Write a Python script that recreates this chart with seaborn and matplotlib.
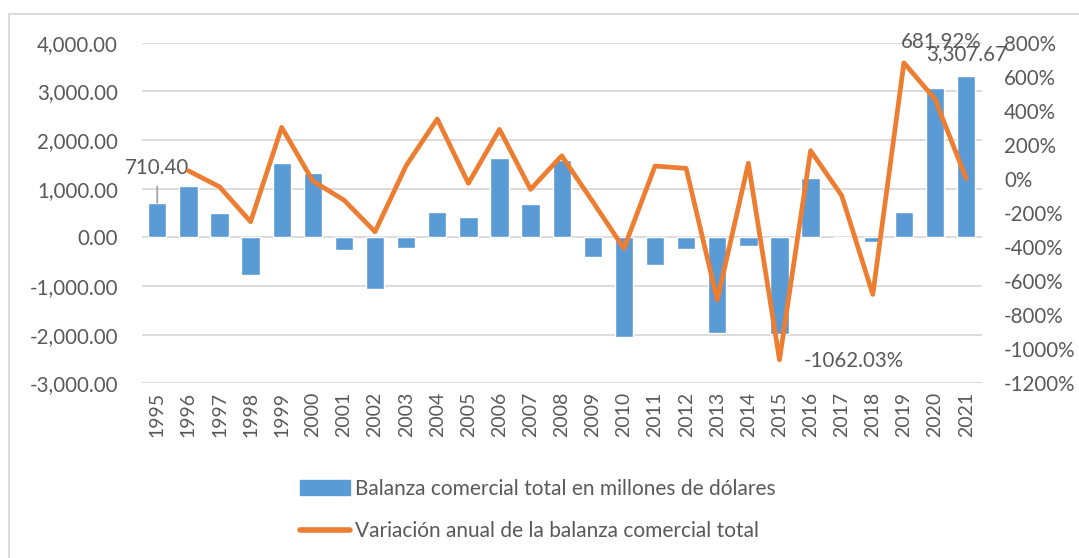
import numpy as np
import pandas as pd
import matplotlib
matplotlib.use("Agg")
import matplotlib.pyplot as plt
import matplotlib.patches as mpatches
import matplotlib.lines as mlines
from matplotlib.ticker import FuncFormatter, MultipleLocator
import seaborn as sns

years = [str(y) for y in range(1995, 2022)]
balanza = [710.40, 1045, 502, -778, 1528, 1321, -262, -1061, -227, 529, 413, 1631,
           681, 1596, -413, -2052, -572, -248, -1962, -170, -1982, 1224, 16, -91,
           529, 3062, 3307.67]
variacion = [np.nan, 48, -46, -251, 303, -12, -124, -310, 78, 352, -26, 291, -61,
             136, -134, -408, 76, 62, -711, 92, -1062.03, 166, -98, -678, 681.92,
             469, 3]

label_bar = "Balanza comercial total en millones de dólares"
label_line = "Variación anual de la balanza comercial total"

BLUE = "#5b9bd5"
ORANGE = "#ed7d31"
TXT = "#595959"
GRID = "#d9d9d9"

sns.set_theme(style="white")
plt.rcParams["font.family"] = ["Lato", "DejaVu Sans"]

df = pd.DataFrame({"year": years, "balanza": balanza, "variacion": variacion})
df["pos"] = np.arange(len(df))

W, H = 1079, 558
fig = plt.figure(figsize=(W / 100, H / 100), dpi=100)
ax = fig.add_axes([141.7 / W, 1 - 383.3 / H, (981.7 - 141.7) / W, (383.3 - 42.7) / H])

sns.barplot(data=df, x="year", y="balanza", color=BLUE, saturation=1, width=0.59,
            ax=ax, zorder=2)
ax.set_ylim(-3000, 4000)
ax.set_xlim(-0.5, len(df) - 0.5)
ax.yaxis.set_major_locator(MultipleLocator(1000))
ax.yaxis.set_major_formatter(FuncFormatter(lambda v, p: f"{v:,.2f}"))
ax.grid(axis="y", color=GRID, linewidth=1.3, zorder=0)
ax.set_axisbelow(True)
for s in ax.spines.values():
    s.set_visible(False)
ax.set_xlabel("")
ax.set_ylabel("")
ax.tick_params(axis="y", length=0, pad=17, labelsize=14.8, labelcolor=TXT)
ax.tick_params(axis="x", length=0, pad=6, labelsize=14, labelcolor=TXT, rotation=90)

ax2 = ax.twinx()
sns.lineplot(data=df, x="pos", y="variacion", color=ORANGE, linewidth=3.4, ax=ax2,
             zorder=3)
ax2.set_ylim(-1200, 800)
ax2.yaxis.set_major_locator(MultipleLocator(200))
ax2.yaxis.set_major_formatter(FuncFormatter(lambda v, p: f"{v:.0f}%"))
for s in ax2.spines.values():
    s.set_visible(False)
ax2.set_ylabel("")
ax2.set_xlabel("")
ax2.tick_params(axis="y", length=0, pad=16, labelsize=14.8, labelcolor=TXT)
ax2.set_xlim(-0.5, len(df) - 0.5)

# data labels
i0 = 0
ax.annotate(f"{balanza[i0]:,.2f}", xy=(i0, balanza[i0]), xytext=(0, 35),
            textcoords="offset pixels", ha="center", va="center", fontsize=14.8,
            color=TXT, arrowprops=dict(arrowstyle="-", color="#a6a6a6", lw=1.3,
                                       shrinkA=4, shrinkB=0))
i_last = len(df) - 1
ax.annotate(f"{balanza[i_last]:,.2f}", xy=(i_last, balanza[i_last]), xytext=(0, 22),
            textcoords="offset pixels", ha="center", va="center", fontsize=14.8,
            color=TXT, zorder=5)
i_max = 24
ax2.annotate(f"{variacion[i_max]:.2f}%", xy=(i_max, variacion[i_max]), xytext=(37, 21),
             textcoords="offset pixels", ha="center", va="center", fontsize=14.8,
             color=TXT, zorder=5)
i_min = 20
ax2.annotate(f"{variacion[i_min]:.2f}%", xy=(i_min, variacion[i_min]), xytext=(24, -1),
             textcoords="offset pixels", ha="left", va="center", fontsize=14.8,
             color=TXT, zorder=5)

# legend
h_bar = mpatches.Patch(color=BLUE, label=label_bar)
h_line = mlines.Line2D([], [], color=ORANGE, linewidth=4, solid_capstyle="round",
                       label=label_line)
fig.legend(handles=[h_bar, h_line], loc="center left",
           bbox_to_anchor=(300 / W, 1 - 510 / H), frameon=False, fontsize=15,
           labelcolor=TXT, handlelength=2.4, handletextpad=0.25, labelspacing=1.05,
           borderpad=0, borderaxespad=0)

# outer chart frame
fig.patches.append(mpatches.Rectangle((9 / W, -0.1), 1.2, 1 - 14 / H + 0.1,
                                      transform=fig.transFigure, fill=False,
                                      edgecolor="#d9d9d9", linewidth=1.3))

fig.savefig("out.png", dpi=100)
